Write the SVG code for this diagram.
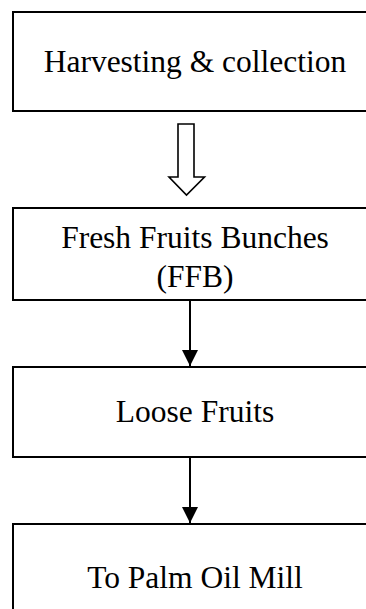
<svg xmlns="http://www.w3.org/2000/svg" width="366" height="609" viewBox="0 0 366 609">
<style>
.box{fill:#fff;stroke:#000;stroke-width:2}
.t{font-family:"Liberation Serif","Times New Roman",serif;font-size:31.5px;fill:#000;text-anchor:middle}
.c{stroke:#000;stroke-width:2;fill:none}
.hollow{fill:#fff;stroke:#000;stroke-width:1.6;stroke-linejoin:miter}
</style>
<defs>
<marker id="ah" markerWidth="16" markerHeight="16" viewBox="0 0 16 16" refX="16" refY="8" orient="auto" markerUnits="userSpaceOnUse">
<path d="M0,0 L16,8 L0,16 z" fill="#000"/>
</marker>
</defs>
<rect width="366" height="609" fill="#fff"/>
<g id="harvesting">
<rect class="box" x="13" y="12" width="366" height="99"/>
<text class="t" x="195" y="72">Harvesting &amp; collection</text>
</g>
<g id="ffb">
<rect class="box" x="13" y="208" width="366" height="92"/>
<text class="t" x="195" y="248">Fresh Fruits Bunches</text>
<text class="t" x="195" y="287">(FFB)</text>
</g>
<g id="loose">
<rect class="box" x="13" y="367" width="366" height="90"/>
<text class="t" x="195" y="422">Loose Fruits</text>
</g>
<g id="mill">
<rect class="box" x="13" y="524" width="366" height="100"/>
<text class="t" x="195" y="588">To Palm Oil Mill</text>
</g>
<g id="connectors">
<polygon class="hollow" points="178,124 194,124 194,177 204.5,177 186.5,195 169,177 178,177"/>
<line class="c" x1="190" y1="300" x2="190" y2="366" marker-end="url(#ah)"/>
<line class="c" x1="190" y1="457" x2="190" y2="523" marker-end="url(#ah)"/>
</g>
</svg>
